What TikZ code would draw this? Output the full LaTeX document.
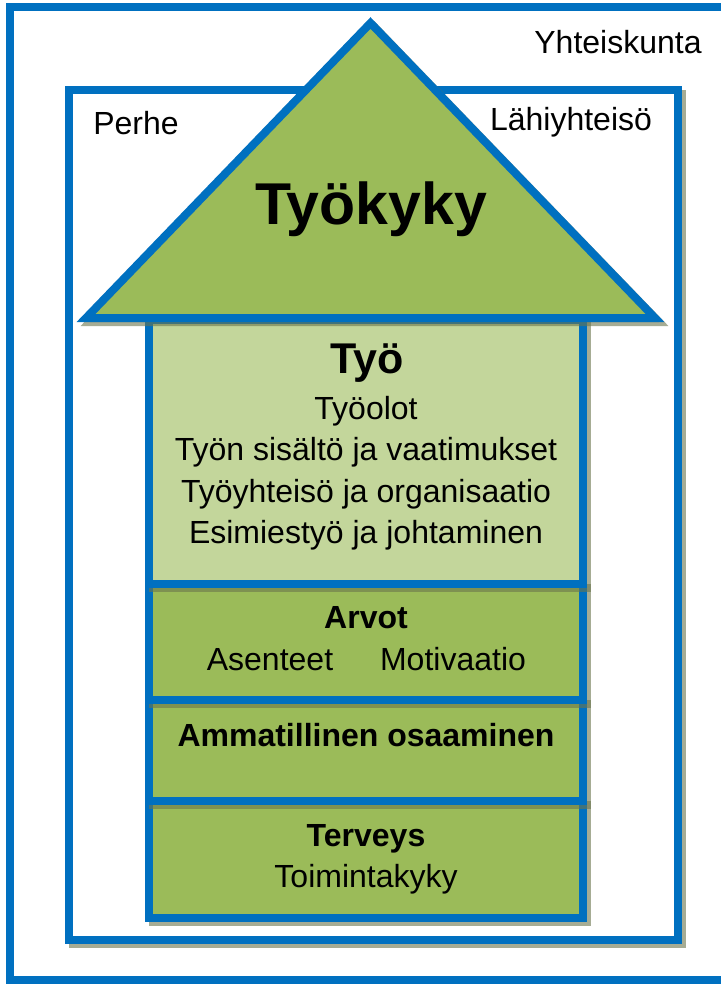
\documentclass[tikz,border=0pt]{standalone}
\usepackage{fontspec}
\setmainfont{Liberation Sans}
\definecolor{frameblue}{HTML}{0070C0}
\definecolor{olive}{HTML}{9BBB59}
\definecolor{lightolive}{HTML}{C3D69B}
\definecolor{shadowc}{RGB}{107,118,77}
\tikzset{
  bline/.style={draw=frameblue, line width=8pt, line join=miter},
  shadowfill/.style={fill=shadowc, fill opacity=0.6, draw=shadowc, draw opacity=0.6, line width=8pt},
  txt/.style={inner sep=0pt, anchor=base, font=\fontsize{32}{38}\selectfont},
  btxt/.style={inner sep=0pt, anchor=base, font=\fontsize{32}{38}\selectfont\bfseries},
}
\begin{document}
\begin{tikzpicture}[x=1pt, y=-1pt]
\useasboundingbox (0,0) rectangle (720,984);
\fill[white] (0,0) rectangle (720,984);
% outer frame (Yhteiskunta)
\draw[bline] (10,7.5) rectangle (730,980);
% inner frame (Lähiyhteisö)
\path[shadowfill] (73,94) rectangle (682,944);
\draw[bline, fill=white] (69,90) rectangle (678,940);
% column boxes, bottom to top
\foreach \t/\b/\c/\n in {801/918/olive/terv, 700/801/olive/amm, 584/700/olive/arv, 320/584/lightolive/tyo}{
  \path[shadowfill] (153,\t+4) rectangle (587,\b+4);
  \draw[bline, fill=\c] (149,\t) rectangle (583,\b) coordinate (\n);
}
% triangle (Työkyky)
\path[shadowfill, line join=miter] (374.5,27) -- (659,322) -- (90,322) -- cycle;
\draw[bline, fill=olive] (370.5,23) -- (655,318) -- (86,318) -- cycle;
% labels
\node[txt] (yht) at (618,54) {Yhteiskunta};
\node[txt] (perhe) at (136,135) {Perhe};
\node[txt] (lahi) at (571,131) {Lähiyhteisö};
\node[inner sep=0pt, anchor=base, font=\fontsize{59}{64}\selectfont\bfseries] (tyokyky) at (371,225) {Työkyky};
\node[inner sep=0pt, anchor=base, font=\fontsize{43}{48}\selectfont\bfseries] (tyo) at (367,373) {Työ};
\node[txt] (l1) at (366,419) {Työolot};
\node[txt] (l2) at (366,460.5) {Työn sisältö ja vaatimukset};
\node[txt] (l3) at (366,502) {Työyhteisö ja organisaatio};
\node[txt] (l4) at (366,543.5) {Esimiestyö ja johtaminen};
\node[btxt] (arvot) at (366,628) {Arvot};
\node[txt] (asenteet) at (270,670) {Asenteet};
\node[txt] (motiv) at (453,670) {Motivaatio};
\node[btxt] (ammat) at (366,746) {Ammatillinen osaaminen};
\node[btxt] (terveys) at (366,846) {Terveys};
\node[txt] (toim) at (366,887) {Toimintakyky};
\end{tikzpicture}
\end{document}
